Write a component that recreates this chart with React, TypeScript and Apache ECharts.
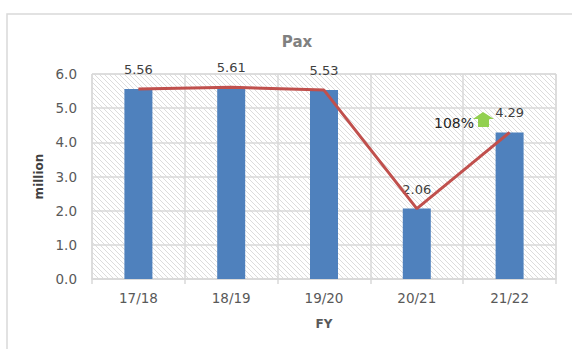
import React, { useEffect, useRef } from "react";
import * as echarts from "echarts";

const categories = ["17/18", "18/19", "19/20", "20/21", "21/22"];
const paxValues = [5.56, 5.61, 5.53, 2.06, 4.29];
const yTicks = { min: 0, max: 6, interval: 1 };
const growthLabel = "108%";

function makeHatch(): HTMLCanvasElement {
  const s = 5;
  const c = document.createElement("canvas");
  c.width = s;
  c.height = s;
  const ctx = c.getContext("2d")!;
  ctx.fillStyle = "#ffffff";
  ctx.fillRect(0, 0, s, s);
  ctx.strokeStyle = "#dcdcdc";
  ctx.lineWidth = 1;
  for (const k of [-s, 0, s]) {
    ctx.beginPath();
    ctx.moveTo(k, 0);
    ctx.lineTo(k + s, s);
    ctx.stroke();
  }
  return c;
}

export default function App() {
  const ref = useRef<HTMLDivElement>(null);
  useEffect(() => {
    const chart = echarts.init(ref.current!, null, { renderer: "svg" });
    const font = "DejaVu Sans";
    const hatch = makeHatch();
    chart.setOption({
      animation: false,
      backgroundColor: "#ffffff",
      textStyle: { fontFamily: font },
      title: {
        text: "Pax",
        left: 292,
        top: 29,
        textAlign: "center",
        textStyle: { fontSize: 15, fontWeight: "bold", color: "#808080", fontFamily: font },
      },
      grid: {
        left: 92,
        top: 74,
        width: 464,
        height: 205,
        show: true,
        backgroundColor: { image: hatch, repeat: "repeat" },
        borderColor: "#d9d9d9",
        borderWidth: 1,
      },
      xAxis: {
        type: "category",
        data: categories,
        axisLine: { lineStyle: { color: "#d9d9d9", width: 1.5 } },
        axisTick: { show: true, length: 5, lineStyle: { color: "#d9d9d9", width: 1.5 } },
        splitLine: { show: true, lineStyle: { color: "#d9d9d9", width: 1.5 } },
        axisLabel: { fontSize: 13.5, color: "#595959", margin: 12, fontFamily: font },
        name: "FY",
        nameLocation: "middle",
        nameGap: 39,
        nameTextStyle: { fontSize: 12, fontWeight: "bold", color: "#595959", fontFamily: font },
      },
      yAxis: {
        type: "value",
        min: yTicks.min,
        max: yTicks.max,
        interval: yTicks.interval,
        axisLine: { show: false },
        axisTick: { show: false },
        splitLine: { show: true, lineStyle: { color: "#d9d9d9", width: 1.5 } },
        axisLabel: {
          fontSize: 13.5,
          color: "#595959",
          margin: 15,
          fontFamily: font,
          formatter: (v: number) => v.toFixed(1),
        },
        name: "million",
        nameLocation: "middle",
        nameRotate: 90,
        nameGap: 44,
        nameTextStyle: { fontSize: 12, fontWeight: "bold", color: "#404040", fontFamily: font },
      },
      series: [
        {
          type: "bar",
          data: paxValues,
          barWidth: 28,
          itemStyle: { color: "#4f81bd" },
          label: {
            show: true,
            position: "top",
            distance: 13,
            fontSize: 13,
            color: "#404040",
            fontFamily: font,
            formatter: (p: any) => Number(p.value).toFixed(2),
          },
          z: 2,
        },
        {
          type: "line",
          data: paxValues,
          symbol: "none",
          lineStyle: { color: "#c0504d", width: 3 },
          itemStyle: { color: "#c0504d" },
          z: 3,
        },
      ],
      graphic: [
        {
          type: "rect",
          z: -10,
          silent: true,
          shape: { x: 7, y: 14, width: 620, height: 400 },
          style: { fill: "none", stroke: "#d9d9d9", lineWidth: 1.5 },
        },
        {
          type: "text",
          z: 10,
          x: 454,
          y: 123,
          style: {
            text: growthLabel,
            fontSize: 14,
            fontFamily: font,
            fill: "#262626",
            align: "center",
            verticalAlign: "middle",
          },
        },
        {
          type: "polygon",
          z: 10,
          shape: {
            points: [
              [483, 112],
              [494, 119],
              [489, 119],
              [489, 127],
              [478, 127],
              [478, 119],
              [473, 119],
            ],
          },
          style: { fill: "#92d050" },
        },
      ],
    });
    return () => chart.dispose();
  }, []);
  return (
    <div
      ref={ref}
      style={{ position: "fixed", left: 0, top: 0, width: 572, height: 349 }}
    />
  );
}
